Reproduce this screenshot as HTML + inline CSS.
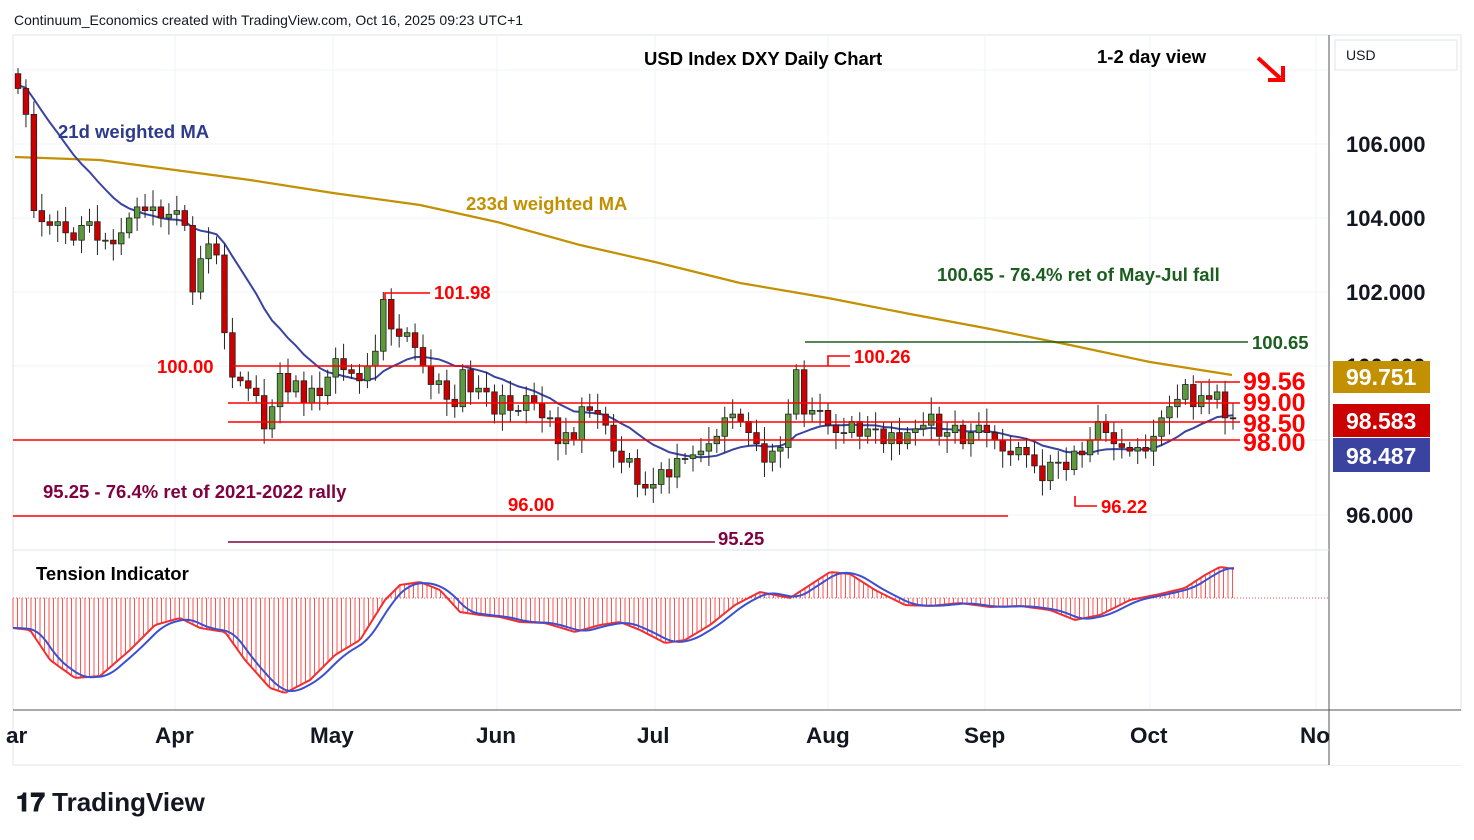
<!DOCTYPE html>
<html><head><meta charset="utf-8"><style>
body{margin:0;width:1474px;height:840px;background:#fff;overflow:hidden;font-family:"Liberation Sans",sans-serif}
svg{position:absolute;left:0;top:0}
.b text{font-weight:bold}
</style></head><body>
<svg id="s" width="1474" height="840" xmlns="http://www.w3.org/2000/svg" font-family="Liberation Sans, sans-serif">
<rect x="13" y="35" width="1448" height="730" fill="none" stroke="#e0e3eb"/>
<g stroke="#f0f3fa" stroke-width="1" id="grid"></g>
<line x1="1329" y1="35" x2="1329" y2="765" stroke="#555" stroke-width="1"/>
<line x1="13" y1="550" x2="1329" y2="550" stroke="#e0e3eb"/>
<line x1="13" y1="710" x2="1461" y2="710" stroke="#555"/>
<line x1="13" y1="598" x2="1329" y2="598" stroke="#ff5252" stroke-dasharray="1 2" stroke-width="1"/>
<g id="hist"></g>
<g id="lines"></g>
<g id="cand"></g>
<g fill="none" stroke-width="1.6">
<line x1="233" y1="366" x2="850" y2="366" stroke="#f00"/>
<line x1="228" y1="403" x2="1240" y2="403" stroke="#f00"/>
<line x1="228" y1="422" x2="1240" y2="422" stroke="#f00"/>
<line x1="13" y1="440" x2="1240" y2="440" stroke="#f00"/>
<line x1="13" y1="516" x2="1008" y2="516" stroke="#f00"/>
<line x1="228" y1="542" x2="715" y2="542" stroke="#800040"/>
<line x1="805" y1="342" x2="1248" y2="342" stroke="#1b5e20"/>
<line x1="1195" y1="382" x2="1240" y2="382" stroke="#f00"/>
<polyline points="385,300 385,293 430,293" stroke="#f00"/>
<polyline points="828,366 828,356 850,356" stroke="#f00"/>
<polyline points="1075,496 1075,506 1097,506" stroke="#f00"/>
</g>
<g class="b">
<g font-size="18.5" fill="#f00">
<text x="434" y="299">101.98</text>
<text x="854" y="363">100.26</text>
<text x="157" y="373">100.00</text>
<text x="508" y="511">96.00</text>
<text x="1101" y="513">96.22</text>
</g>
<text x="718" y="545" font-size="18.5" fill="#800040">95.25</text>
<text x="43" y="498" font-size="18.5" fill="#800040">95.25 - 76.4% ret of 2021-2022 rally</text>
<g font-size="25" fill="#f00">
<text x="1243" y="390">99.56</text><text x="1243" y="411">99.00</text><text x="1243" y="432">98.50</text><text x="1243" y="451">98.00</text>
</g>
<text x="1252" y="349" font-size="18.5" fill="#1b5e20">100.65</text>
<text x="937" y="281" font-size="18.5" fill="#1b5e20">100.65 - 76.4% ret of May-Jul fall</text>
<text x="466" y="210" font-size="18.5" fill="#c29000">233d weighted MA</text>
<text x="58" y="138" font-size="18.5" fill="#2e3a8c">21d weighted MA</text>
<text x="644" y="65" font-size="18.5" fill="#000">USD Index DXY Daily Chart</text>
<text x="1097" y="63" font-size="18.5" fill="#000">1-2 day view</text>
<text x="36" y="580" font-size="18.5" fill="#000">Tension Indicator</text>
<g font-size="22" fill="#131722">
<text x="1346" y="152">106.000</text><text x="1346" y="226">104.000</text><text x="1346" y="300">102.000</text><text x="1346" y="523">96.000</text><text x="1346" y="374">100.000</text>
</g>
</g>
<path d="M1258 58 L1280 78 M1268 80 L1283 80 L1283 66" stroke="#f00" stroke-width="4" fill="none"/>
<text x="14" y="25" font-size="14" fill="#131722">Continuum_Economics created with TradingView.com, Oct 16, 2025 09:23 UTC+1</text>
<rect x="1335" y="40" width="122" height="30" fill="#fff" stroke="#e0e3eb"/>
<text x="1346" y="60" font-size="14" fill="#131722">USD</text>
<g class="b">
<rect x="1333" y="361" width="97" height="32" fill="#c29000"/><text x="1346" y="385" font-size="23" fill="#fff">99.751</text>
<rect x="1333" y="404" width="97" height="33" fill="#cc0000"/><text x="1346" y="429" font-size="23" fill="#fff">98.583</text>
<rect x="1333" y="438" width="97" height="34" fill="#3a44a0"/><text x="1346" y="464" font-size="23" fill="#fff">98.487</text>
<g font-size="22.5" fill="#131722">
<text x="6" y="743">ar</text><text x="155" y="743">Apr</text><text x="310" y="743">May</text><text x="476" y="743">Jun</text><text x="637" y="743">Jul</text><text x="806" y="743">Aug</text><text x="964" y="743">Sep</text><text x="1130" y="743">Oct</text><text x="1300" y="743">No</text>
</g>
</g>
<rect x="1330" y="711" width="144" height="54" fill="#fff"/>
<text x="16" y="811" font-size="26" font-weight="bold" fill="#131722">𝟏𝟕 TradingView</text>
</svg>
<script>
var c=[107.5,106.8,104.2,103.9,103.8,103.9,103.6,103.4,103.8,103.9,103.4,103.4,103.3,103.6,104.0,104.3,104.2,104.3,104.0,104.1,104.2,
103.8,102.0,102.9,103.3,103.0,100.9,99.7,99.6,99.4,99.2,98.3,98.9,99.8,99.3,99.6,99.0,99.4,99.2,99.7,
100.2,99.9,99.8,99.6,100.0,100.4,101.8,101.0,100.8,100.9,100.5,100.0,99.5,99.6,99.1,98.9,99.9,99.3,99.4,99.3,
98.7,99.2,98.8,98.8,99.2,99.0,98.6,98.6,97.9,98.2,98.0,98.9,98.8,98.7,98.4,97.7,97.4,97.5,96.8,
96.7,96.8,97.2,97.0,97.5,97.5,97.6,97.7,97.9,98.1,98.6,98.7,98.5,98.2,97.9,97.4,97.7,97.8,98.7,99.9,
98.7,98.8,98.8,98.4,98.2,98.2,98.5,98.1,98.3,98.3,97.9,98.2,97.9,98.2,98.3,98.4,98.7,98.1,98.2,98.4,97.9,
98.2,98.4,98.2,98.0,97.7,97.6,97.8,97.6,97.3,96.9,97.4,97.4,97.2,97.7,97.6,98.0,98.5,98.2,97.9,97.8,
97.7,97.8,97.7,98.1,98.6,98.9,99.1,99.5,98.9,99.2,99.1,99.3,98.6,98.58];
var N=c.length,x0=18,dx=(1233-18)/(N-1);
function Y(v){return 144+(106-v)*37}
var s='',i,o,h,l,x;
for(i=0;i<N;i++){x=x0+i*dx;o=i?c[i-1]:107.9;var cl=c[i];
h=Math.max(o,cl)+0.15+((i*37)%7)/20;l=Math.min(o,cl)-0.15-((i*53)%7)/20;
var up=cl>=o,col=up?'#5c9a3d':'#cc0000',t=Y(Math.max(o,cl)),b=Y(Math.min(o,cl));
s+='<line x1="'+x+'" y1="'+Y(h)+'" x2="'+x+'" y2="'+Y(l)+'" stroke="#222"/>';
s+='<rect x="'+(x-2.8)+'" y="'+t+'" width="5.6" height="'+Math.max(b-t,1)+'" fill="'+col+'" stroke="#222" stroke-width="0.8"/>';}
document.getElementById('cand').innerHTML=s;
var ext=[];for(i=0;i<21;i++)ext.push(107.6);ext=ext.concat(c);var p=[];
for(i=21;i<ext.length;i++){var n=0,d=0;for(var k=0;k<21;k++){n+=ext[i-k]*(21-k);d+=21-k}p.push((x0+(i-21)*dx).toFixed(1)+','+Y(n/d).toFixed(1))}
var g='<polyline points="15,157 100,160 175,170 250,180 333,193 420,205 497,222 580,245 655,262 740,283 828,298 910,314 985,328 1070,345 1150,362 1232,375" fill="none" stroke="#c29000" stroke-width="2.2"/>';
g+='<polyline points="'+p.join(' ')+'" fill="none" stroke="#3a44a0" stroke-width="2"/>';
var T=[[13,628],[30,630],[50,660],[75,678],[100,676],[130,650],[155,625],[180,618],[200,628],[225,632],[245,660],[270,688],[285,693],[310,680],[335,655],[360,640],[385,600],[400,585],[420,582],[440,590],[460,612],[480,615],[500,617],[520,622],[545,623],[575,632],[600,625],[620,622],[640,630],[665,643],[685,640],[710,625],[735,605],[760,592],[790,598],[810,585],[830,572],[850,574],[875,590],[905,605],[930,606],[960,603],[990,607],[1020,606],[1050,610],[1075,620],[1100,615],[1130,600],[1160,594],[1185,588],[1205,575],[1220,567],[1235,569]];
function ty(x){for(var j=1;j<T.length;j++)if(x<=T[j][0]){var a=T[j-1],b=T[j];return a[1]+(b[1]-a[1])*(x-a[0])/(b[0]-a[0])}return T[T.length-1][1]}
var hs='',rp=[],bp=[];
for(x=13;x<=1235;x+=4.5){var v=ty(x);hs+='<line x1="'+x+'" y1="598" x2="'+x+'" y2="'+v+'" stroke="#ff5252" stroke-width="1"/>';}
for(x=13;x<=1235;x+=3){rp.push(x+','+ty(x));var m=0;for(var q=0;q<8;q++)m+=ty(Math.max(13,x-q*2.5));bp.push(x+','+(m/8))}
document.getElementById('hist').innerHTML=hs+'<polyline points="'+rp.join(' ')+'" fill="none" stroke="#f03030" stroke-width="2"/><polyline points="'+bp.join(' ')+'" fill="none" stroke="#3a50d0" stroke-width="2"/>';
document.getElementById('lines').innerHTML=g;
var gr='';[70,144,218,292,366,440,515].forEach(function(y){gr+='<line x1="13" y1="'+y+'" x2="1329" y2="'+y+'"/>'});
[175,333,497,655,828,985,1150,1316].forEach(function(x){gr+='<line x1="'+x+'" y1="35" x2="'+x+'" y2="710"/>'});
document.getElementById('grid').innerHTML=gr;
</script>
</body></html>
